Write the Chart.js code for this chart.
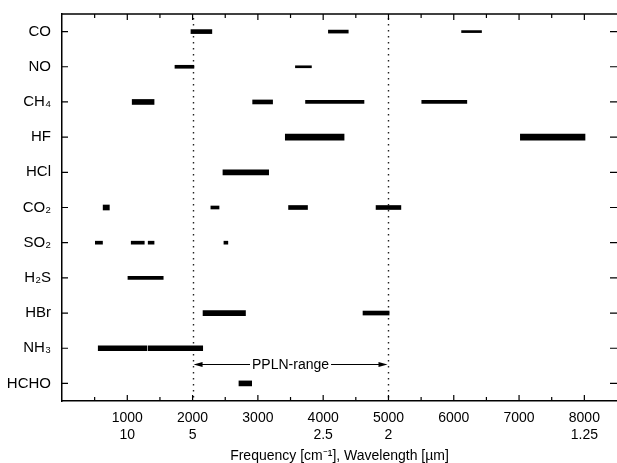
<!DOCTYPE html>
<html>
<head>
<meta charset="utf-8">
<script src="https://cdn.jsdelivr.net/npm/chart.js@4"></script>
<style>
  html, body { margin: 0; padding: 0; background: #fff; }
  #wrap { width: 617px; height: 463px; }
</style>
</head>
<body>
<div id="wrap"><canvas id="chart"></canvas></div>
<script>
// Gases, top to bottom
const categories = ['CO', 'NO', 'CH₄', 'HF', 'HCl', 'CO₂', 'SO₂', 'H₂S', 'HBr', 'NH₃', 'HCHO'];

// Frequency axis (cm-1) and wavelength labels (um)
const freqMin = 0;
const freqMax = 8500;
const freqStep = 500;
const freqLabelMax = 8000;
const waveTicks = [1000, 2000, 4000, 5000, 8000];
const waveLabels = ['10', '5', '2.5', '2', '1.25'];

// PPLN tuning range
const pplnRange = [2000, 5000];
const pplnLabel = 'PPLN-range';

// Absorption bands [gas, from, to], grouped by line weight in the figure
const bandsHeavy = [
    ['HF', 3420, 4320], ['HF', 7020, 8010]
];
const bandsBold = [
    ['CH₄', 1075, 1410], ['HCl', 2465, 3165], ['NH₃', 555, 1300], ['NH₃', 1320, 2155],
    ['HCHO', 2710, 2905], ['HBr', 2160, 2810], ['CO₂', 630, 725]
];
const bandsMedium = [
    ['CO', 1975, 2295], ['CH₄', 2920, 3225], ['CO₂', 3470, 3760],
    ['HBr', 4610, 5010], ['CO₂', 4810, 5190]
];
const bandsThin = [
    ['CO', 4080, 4384], ['NO', 1730, 2020], ['CH₄', 3730, 4625], ['CH₄', 5510, 6200],
    ['CO₂', 2280, 2405], ['SO₂', 510, 620], ['SO₂', 1060, 1260], ['SO₂', 1320, 1410],
    ['SO₂', 2480, 2540], ['H₂S', 1010, 1550]
];
const bandsHair = [
    ['CO', 6120, 6425], ['NO', 3575, 3820]
];

const FONT = "'Liberation Sans', Arial, Helvetica, sans-serif";

function bandDataset(bands, thickness) {
    return {
        data: bands.map(b => ({ y: b[0], x: [b[1], b[2]] })),
        backgroundColor: '#000',
        borderWidth: 0,
        barThickness: thickness,
        grouped: false
    };
}

// Frame, inward ticks, dotted PPLN limits and the range arrow
const framePlugin = {
    id: 'frame',
    beforeDatasetsDraw(chart) {
        const { ctx, chartArea: a, scales: { x } } = chart;
        ctx.save();
        ctx.strokeStyle = '#222';
        ctx.lineWidth = 1.4;
        ctx.setLineDash([1.4, 4.6]);
        pplnRange.forEach(v => {
            const px = Math.round(x.getPixelForValue(v)) + 0.5;
            ctx.beginPath();
            ctx.moveTo(px, a.top + 4);
            ctx.lineTo(px, a.bottom);
            ctx.stroke();
        });
        ctx.restore();
    },
    afterDraw(chart) {
        const { ctx, chartArea: a, scales: { x, y } } = chart;
        ctx.save();
        ctx.strokeStyle = '#000';
        ctx.lineWidth = 1.5;

        // top frame line
        ctx.beginPath();
        ctx.moveTo(a.left, a.top);
        ctx.lineTo(a.right, a.top);
        ctx.stroke();

        // x ticks (top and bottom, pointing in)
        ctx.lineWidth = 1.2;
        x.ticks.forEach(t => {
            if (t.value <= freqMin || t.value >= freqMax) return;
            const px = x.getPixelForValue(t.value);
            const len = t.value % 1000 === 0 ? 6 : 4;
            ctx.beginPath();
            ctx.moveTo(px, a.top);
            ctx.lineTo(px, a.top + len);
            ctx.moveTo(px, a.bottom);
            ctx.lineTo(px, a.bottom - len);
            ctx.stroke();
        });

        // y ticks (left and right, pointing in)
        categories.forEach((c, i) => {
            const py = y.getPixelForValue(i);
            ctx.beginPath();
            ctx.moveTo(a.left, py);
            ctx.lineTo(a.left + 6, py);
            ctx.moveTo(a.right, py);
            ctx.lineTo(a.right - 7, py);
            ctx.stroke();
        });

        // PPLN range arrow
        const x0 = x.getPixelForValue(pplnRange[0]);
        const x1 = x.getPixelForValue(pplnRange[1]);
        const py = Math.round(y.getPixelForValue(categories.length - 1.55)) + 0.5;
        const mid = (x0 + x1) / 2;
        ctx.font = '14px ' + FONT;
        ctx.fillStyle = '#000';
        ctx.textAlign = 'center';
        ctx.textBaseline = 'middle';
        const w = ctx.measureText(pplnLabel).width;
        ctx.fillText(pplnLabel, mid, py + 1);
        ctx.lineWidth = 1.1;
        ctx.beginPath();
        ctx.moveTo(x0 + 6, py);
        ctx.lineTo(mid - w / 2 - 2, py);
        ctx.moveTo(mid + w / 2 + 2, py);
        ctx.lineTo(x1 - 6, py);
        ctx.stroke();
        [[x0, 1], [x1, -1]].forEach(([tip, dir]) => {
            ctx.beginPath();
            ctx.moveTo(tip + dir, py);
            ctx.lineTo(tip + dir * 10, py - 2.5);
            ctx.lineTo(tip + dir * 10, py + 2.5);
            ctx.closePath();
            ctx.fill();
        });
        ctx.restore();
    }
};

new Chart(document.getElementById('chart'), {
    type: 'bar',
    data: {
        labels: categories,
        datasets: [
            bandDataset(bandsHeavy, 6),
            bandDataset(bandsBold, 5),
            bandDataset(bandsMedium, 4),
            bandDataset(bandsThin, 3),
            bandDataset(bandsHair, 2)
        ]
    },
    options: {
        indexAxis: 'y',
        responsive: true,
        maintainAspectRatio: false,
        animation: false,
        layout: { padding: { top: 14, right: 0, left: 0, bottom: 0 } },
        plugins: {
            legend: { display: false },
            tooltip: { enabled: false }
        },
        scales: {
            x: {
                type: 'linear',
                min: freqMin,
                max: freqMax,
                grid: { display: false, drawTicks: false },
                border: { display: true, color: '#000', width: 1.5 },
                ticks: {
                    stepSize: freqStep,
                    autoSkip: false,
                    maxRotation: 0,
                    padding: 9,
                    color: '#000',
                    font: { family: FONT, size: 14, lineHeight: 1.2 },
                    callback: function(value) {
                        if (value % 1000 !== 0 || value <= freqMin || value > freqLabelMax) return '';
                        const i = waveTicks.indexOf(value);
                        return [String(value), i >= 0 ? waveLabels[i] : ''];
                    }
                },
                title: {
                    display: true,
                    text: 'Frequency [cm⁻¹], Wavelength [µm]',
                    color: '#000',
                    font: { family: FONT, size: 14, lineHeight: 1.2 },
                    padding: { top: 0, bottom: -2 }
                },
                afterFit: scale => {
                    scale.height = 62;
                    scale.paddingLeft = 0;
                    scale.paddingRight = 0;
                }
            },
            y: {
                type: 'category',
                offset: true,
                grid: { display: false, drawTicks: false },
                border: { display: true, color: '#000', width: 1.5 },
                ticks: {
                    padding: 11,
                    color: '#000',
                    font: { family: FONT, size: 15 }
                },
                afterFit: scale => {
                    scale.width = 62;
                    scale.paddingTop = 0;
                    scale.paddingBottom = 0;
                }
            }
        }
    },
    plugins: [framePlugin]
});
</script>
</body>
</html>
